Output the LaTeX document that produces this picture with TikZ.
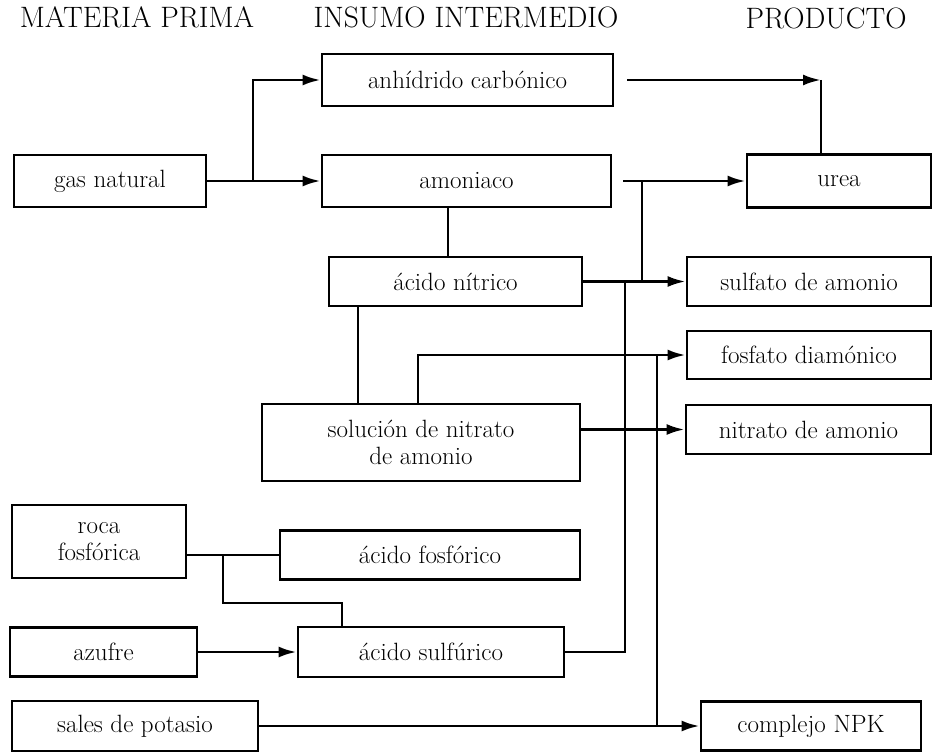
\documentclass[tikz,border=0pt]{standalone}
\usetikzlibrary{arrows.meta}
\begin{document}
\begin{tikzpicture}[x=1pt,y=-1pt,
  box/.style={draw,line width=2.8pt,inner sep=0pt,align=center,font=\fontsize{25}{27}\selectfont},
  ttl/.style={anchor=base,font=\fontsize{29.5}{32}\selectfont},
  ln/.style={line width=2.8pt},
  arr/.style={ln,-{Latex[length=18pt,width=11pt]}}]
\useasboundingbox (0,0) rectangle (935,752);
% titles
\node[ttl] (t1) at (137,28) {MATERIA PRIMA};
\node[ttl] (t2) at (466,28) {INSUMO INTERMEDIO};
\node[ttl] (t3) at (826,29) {PRODUCTO};
% boxes
\node[box,minimum width=291pt,minimum height=52pt] (anh) at (467.5,80) {anhídrido carbónico};
\node[box,minimum width=192pt,minimum height=52pt] (gas) at (110,181) {gas natural};
\node[box,minimum width=289pt,minimum height=52pt] (amon) at (466.5,181) {amoniaco};
\node[box,minimum width=184pt,minimum height=53pt] (urea) at (839,181) {urea};
\node[box,minimum width=253pt,minimum height=49pt] (nit) at (455.5,281.5) {ácido nítrico};
\node[box,minimum width=244pt,minimum height=49pt] (sulf) at (809,281.5) {sulfato de amonio};
\node[box,minimum width=244pt,minimum height=48pt] (fos) at (809,355) {fosfato diamónico};
\node[box,minimum width=318pt,minimum height=77pt] (sol) at (421,442.5) {solución de nitrato\\de amonio};
\node[box,minimum width=245pt,minimum height=49pt] (nam) at (808.5,429.5) {nitrato de amonio};
\node[box,minimum width=174pt,minimum height=73pt] (roca) at (99,541.5) {roca\\fosfórica};
\node[box,minimum width=300pt,minimum height=49pt] (afos) at (430,555) {ácido fosfórico};
\node[box,minimum width=187pt,minimum height=49pt] (azu) at (103.5,652) {azufre};
\node[box,minimum width=266pt,minimum height=50pt] (asulf) at (431,652) {ácido sulfúrico};
\node[box,minimum width=246pt,minimum height=50pt] (sales) at (135,726) {sales de potasio};
\node[box,minimum width=220pt,minimum height=49pt] (npk) at (811,726) {complejo NPK};
% helper coordinates
\coordinate (j1) at (253,0);
\coordinate (c1) at (821,80);
\coordinate (j2) at (642,0);
\coordinate (v1) at (448,0);
\coordinate (v2) at (358,0);
\coordinate (v3) at (418,0);
\coordinate (v4) at (625,0);
\coordinate (v5) at (223,0);
\coordinate (h1) at (0,603);
\coordinate (v6) at (342,0);
\coordinate (v7) at (657,0);
% connectors
\draw[arr] (gas.east) -- (amon.west);
\draw[arr] (gas.east -| j1) |- (anh.west);
\draw[arr] ([xshift=13pt]anh.east) -- (c1);
\draw[ln] (c1) -- (c1 |- urea.north);
\draw[arr] ([xshift=11pt]amon.east) -- (urea.west);
\draw[ln] (j2 |- amon.east) -- (j2 |- sulf.west);
\draw[arr] (nit.east) -- (sulf.west);
\draw[ln] (v1 |- amon.south) -- (v1 |- nit.north);
\draw[ln] (v2 |- nit.south) -- (v2 |- sol.north);
\draw[arr] (v3 |- sol.north) |- (fos.west);
\draw[arr] (sol.east |- nam.west) -- (nam.west);
\draw[ln] (asulf.east) -| (v4 |- sulf.west);
\draw[ln] (roca.east |- afos.west) -- (afos.west);
\draw[ln] (v5 |- afos.west) -- (v5 |- h1) -| (v6 |- asulf.north);
\draw[arr] (azu.east) -- (asulf.west);
\draw[arr] (sales.east) -- (npk.west);
\draw[ln] (v7 |- fos.west) -- (v7 |- npk.west);
\end{tikzpicture}
\end{document}
